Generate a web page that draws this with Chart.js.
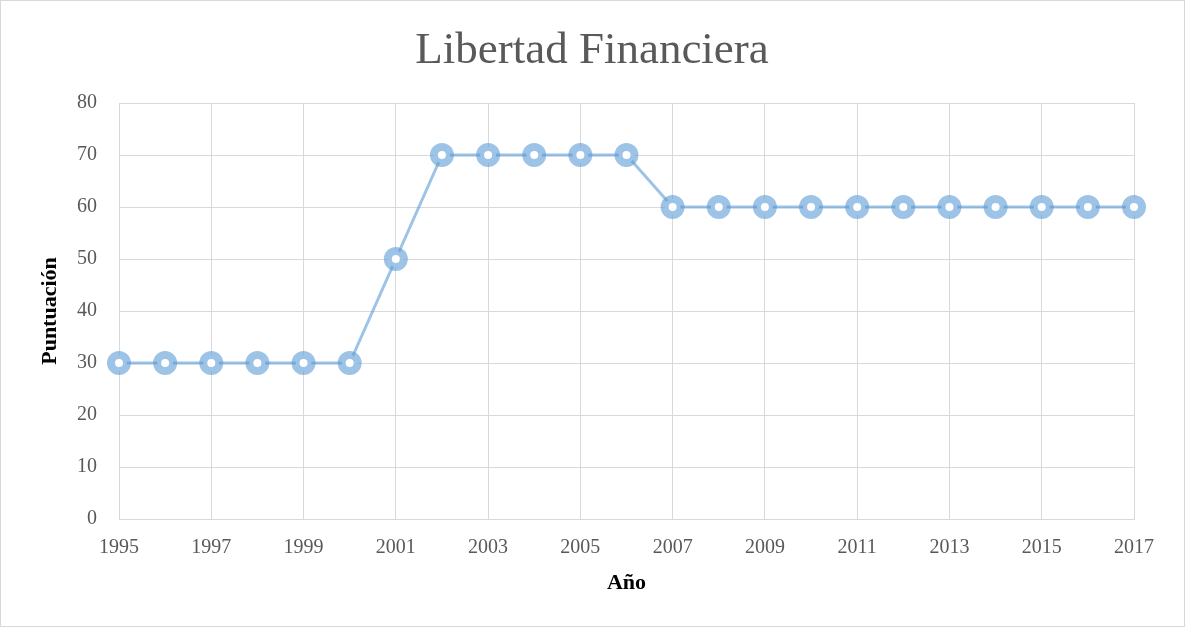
<!DOCTYPE html>
<html>
<head>
<meta charset="utf-8">
<script src="https://cdn.jsdelivr.net/npm/chart.js@4.4.0/dist/chart.umd.min.js"></script>
<style>
  html, body { margin: 0; padding: 0; background: #fff; }
  #wrap { width: 1185px; height: 627px; box-sizing: border-box; border: 1px solid #d9d9d9; }
</style>
</head>
<body>
<div id="wrap"><canvas id="chart" width="1183" height="625"></canvas></div>
<script>
const years = [1995, 1996, 1997, 1998, 1999, 2000, 2001, 2002, 2003, 2004, 2005, 2006,
  2007, 2008, 2009, 2010, 2011, 2012, 2013, 2014, 2015, 2016, 2017];
const scores = [30, 30, 30, 30, 30, 30, 50, 70, 70, 70, 70, 70,
  60, 60, 60, 60, 60, 60, 60, 60, 60, 60, 60];
const yTicks = [0, 10, 20, 30, 40, 50, 60, 70, 80];

const serif = "'Liberation Serif', 'Times New Roman', serif";
const txt = '#595959';
const gridCol = '#d9d9d9';
const blue = 'rgba(91, 155, 213, 0.6)';

new Chart(document.getElementById('chart').getContext('2d'), {
  type: 'line',
  data: {
    datasets: [{
      data: years.map((y, i) => ({ x: y, y: scores[i] })),
      borderColor: blue,
      borderWidth: 3,
      pointRadius: 8,
      pointHoverRadius: 8,
      pointBorderWidth: 8,
      pointBackgroundColor: '#fff',
      pointBorderColor: blue,
      tension: 0,
      clip: false
    }]
  },
  options: {
    responsive: false,
    animation: false,
    // equal-ish side padding so the title sits centred on the canvas
    layout: { padding: { left: 49, right: 50, top: 0, bottom: 25 } },
    plugins: {
      legend: { display: false },
      tooltip: { enabled: false },
      title: {
        display: true,
        text: 'Libertad Financiera',
        color: txt,
        font: { family: serif, size: 45, weight: 'normal', lineHeight: 1.2 },
        padding: { top: 23, bottom: 25 }
      }
    },
    scales: {
      x: {
        type: 'linear',
        min: 1995,
        max: 2017,
        afterBuildTicks: a => { a.ticks = years.filter(y => (y - 1995) % 2 === 0).map(v => ({ value: v })); },
        afterFit: a => { a.height = 82; },
        grid: { color: gridCol, lineWidth: 1, drawTicks: false },
        border: { color: gridCol },
        ticks: {
          color: txt,
          font: { family: serif, size: 20 },
          padding: 17,
          maxRotation: 0,
          callback: v => String(v)
        },
        title: {
          display: true,
          text: 'Año',
          color: '#000',
          font: { family: serif, size: 22, weight: 'bold' },
          padding: { top: 2 }
        }
      },
      y: {
        min: 0,
        max: 80,
        afterBuildTicks: a => { a.ticks = yTicks.map(v => ({ value: v })); },
        afterFit: a => { a.width = 69; },
        grid: { color: gridCol, lineWidth: 1, drawTicks: false },
        border: { color: gridCol },
        ticks: {
          color: txt,
          font: { family: serif, size: 20 },
          padding: 22
        },
        title: {
          display: true,
          text: 'Puntuación',
          color: '#000',
          font: { family: serif, size: 22, weight: 'bold' },
          padding: { top: -13, bottom: 0 }
        }
      }
    }
  }
});
</script>
</body>
</html>
